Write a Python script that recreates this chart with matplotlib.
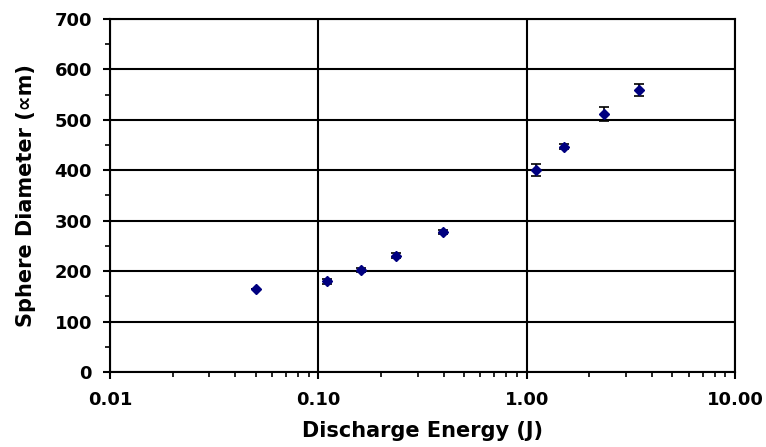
import matplotlib
matplotlib.use("Agg")
import matplotlib.pyplot as plt
from matplotlib.ticker import LogLocator, MultipleLocator, FixedLocator, FixedFormatter

plt.rcParams['font.family'] = ['DejaVu Sans']
plt.rcParams['font.weight'] = 'bold'

energy = [0.050, 0.110, 0.161, 0.236, 0.397, 1.106, 1.51, 2.36, 3.47]
diameter = [165, 180, 203, 231, 278, 401, 447, 511, 559]
err = [0, 5, 4, 5, 4, 12, 5, 14, 12]
xticks = [0.01, 0.1, 1, 10]
xticklabels = ["0.01", "0.10", "1.00", "10.00"]

fig = plt.figure(figsize=(7.66, 4.47), dpi=100)
ax = fig.add_axes([0.1436, 0.1678, 0.8159, 0.7897])

ax.errorbar(energy, diameter, yerr=err, fmt='D', color='#000080', markersize=5.5,
            ecolor='black', elinewidth=1.2, capsize=3.5, capthick=1.2, zorder=3)

ax.set_xscale('log')
ax.set_xlim(0.01, 10)
ax.set_ylim(0, 700)
ax.xaxis.set_major_locator(FixedLocator(xticks))
ax.xaxis.set_major_formatter(FixedFormatter(xticklabels))
ax.xaxis.set_minor_locator(LogLocator(base=10, subs=range(2, 10)))
ax.xaxis.set_minor_formatter(plt.NullFormatter())
ax.yaxis.set_major_locator(MultipleLocator(100))
ax.yaxis.set_minor_locator(MultipleLocator(50))

ax.grid(True, which='major', color='black', linewidth=1.5)
ax.set_axisbelow(True)
for s in ax.spines.values():
    s.set_linewidth(1.5)
    s.set_color('black')

ax.tick_params(which='major', direction='out', length=5, width=1.5, labelsize=13)
ax.tick_params(which='minor', direction='out', length=3.3, width=1.2)
ax.tick_params(axis='x', which='major', pad=9)
ax.tick_params(axis='y', which='major', pad=8)
for lab in ax.get_xticklabels() + ax.get_yticklabels():
    lab.set_fontweight('bold')

ax.set_xlabel("Discharge Energy (J)", fontsize=15, fontweight='bold')
ax.set_ylabel("Sphere Diameter (\u221dm)", fontsize=15, fontweight='bold')
ax.xaxis.set_label_coords(0.5, -0.139)
ax.yaxis.set_label_coords(-0.118, 0.5)

fig.savefig("out.png", dpi=100)
